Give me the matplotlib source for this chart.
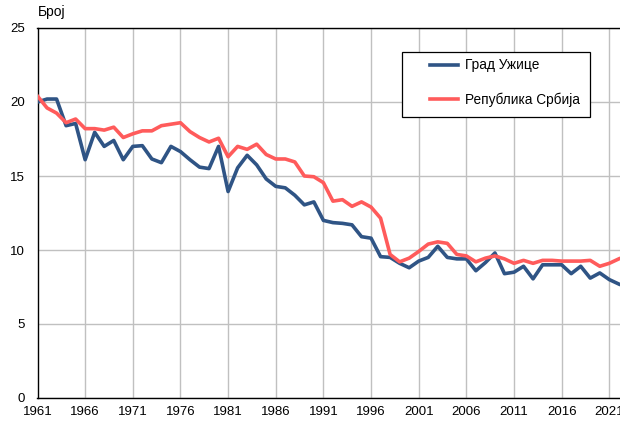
import numpy as np
import matplotlib
matplotlib.use("Agg")
import matplotlib.pyplot as plt
from matplotlib.patches import Rectangle

plt.rcParams["font.family"] = ["Liberation Sans", "DejaVu Sans"]

years = np.arange(1961, 2023)

uzice = [20.0, 20.2, 20.2, 18.4, 18.55, 16.1, 17.95, 17.0, 17.4, 16.1,
         17.0, 17.05, 16.15, 15.9, 17.0, 16.65, 16.1, 15.6, 15.5, 17.0,
         13.95, 15.55, 16.4, 15.75, 14.8, 14.3, 14.2, 13.7, 13.05, 13.25,
         12.0, 11.85, 11.8, 11.7, 10.9, 10.8, 9.55, 9.5, 9.1, 8.8,
         9.25, 9.5, 10.25, 9.5, 9.4, 9.4, 8.6, 9.15, 9.8, 8.4,
         8.5, 8.9, 8.05, 9.0, 9.0, 9.0, 8.4, 8.9, 8.1, 8.45,
         8.0, 7.7]

srbija = [20.4, 19.6, 19.25, 18.6, 18.85, 18.2, 18.2, 18.1, 18.3, 17.6,
          17.85, 18.05, 18.05, 18.4, 18.5, 18.6, 18.0, 17.6, 17.3, 17.55,
          16.3, 17.0, 16.8, 17.15, 16.45, 16.15, 16.15, 15.95, 15.0, 14.95,
          14.55, 13.3, 13.4, 12.95, 13.25, 12.9, 12.15, 9.7, 9.2, 9.45,
          9.9, 10.4, 10.55, 10.45, 9.7, 9.6, 9.2, 9.45, 9.6, 9.4,
          9.1, 9.3, 9.1, 9.3, 9.3, 9.25, 9.25, 9.25, 9.3, 8.9,
          9.1, 9.4]

labels = ["Град Ужице", "Република Србија"]
xticks = np.arange(1961, 2022, 5)
yticks = np.arange(0, 26, 5)

W, H = 620, 421
fig = plt.figure(figsize=(W / 100, H / 100), dpi=100)
# plot area: 1961 at x=37.5 px, 9.53 px per year; y 0..25 from 398 px to 28 px
ax = fig.add_axes([37.5 / W, 1 - 398 / H, 62 * 9.53 / W, 370 / H])

ax.plot(years, uzice, color="#2F5485", lw=2.6, label=labels[0], zorder=3)
ax.plot(years, srbija, color="#FF5B5B", lw=2.6, label=labels[1], zorder=3)

ax.set_xlim(1961, 2023)
ax.set_ylim(0, 25)
ax.set_xticks(xticks)
ax.set_yticks(yticks)
ax.tick_params(axis="both", length=0, labelsize=9.5, colors="black")
ax.tick_params(axis="x", pad=6)
ax.tick_params(axis="y", pad=9)
ax.grid(True, color="#c0c0c0", lw=1)
ax.set_axisbelow(True)
for s in ax.spines.values():
    s.set_color("black")
    s.set_linewidth(1.0)

ax.text(0, 1.025, "Број", transform=ax.transAxes, fontsize=10,
        ha="left", va="bottom")

# legend box drawn separately to get the wide left padding
ax.add_patch(Rectangle((0.6168, 0.7595), 0.318, 0.1755, transform=ax.transAxes,
                       facecolor="white", edgecolor="black", lw=0.9, zorder=4))
leg = ax.legend(loc="upper left", bbox_to_anchor=(0.664, 0.918), fontsize=9.8,
                frameon=False, borderpad=0, labelspacing=1.5, handlelength=2.1,
                handletextpad=0.45, borderaxespad=0)
leg.set_zorder(5)

fig.savefig("out.png", dpi=100)
